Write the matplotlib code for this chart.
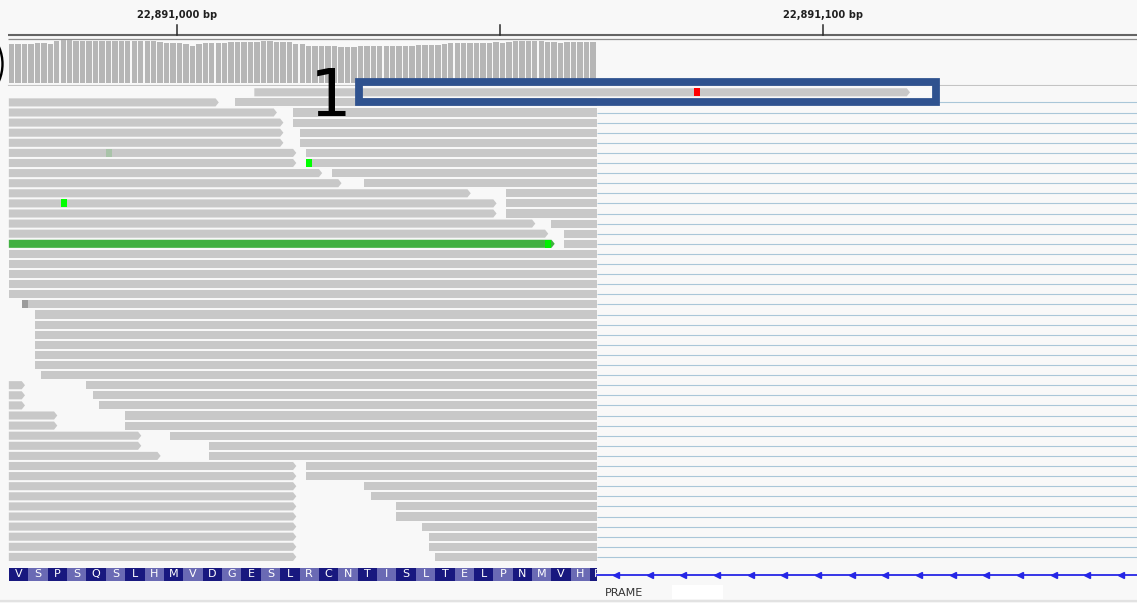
import numpy as np
import matplotlib
matplotlib.use("Agg")
import matplotlib.pyplot as plt
from matplotlib.patches import Polygon, Rectangle, Ellipse
from matplotlib.transforms import Bbox, TransformedBbox

# ---- canvas and genome scale ----
W, H = 1137, 603
BG = "#f8f8f8"
ORIGIN = 22_891_000          # genomic coordinate used as offset 0
BP_PX = 6.46                 # pixels per base
ORIGIN_PX = 176.8            # pixel column of ORIGIN
XMIN = -ORIGIN_PX / BP_PX
XMAX = (W - ORIGIN_PX) / BP_PX

# ---- ruler ----
ruler_ticks = [0, 50, 100]
labeled_ticks = [0, 100]

# ---- loaded alignment window (offsets from ORIGIN) ----
DATA_START = -26
DATA_END = 65

# ---- coverage, one value per base from DATA_START ----
coverage = [39, 39, 39, 39, 40, 40, 39, 42, 43, 43, 42, 42, 42, 42,
            42, 42, 42, 42, 42, 42, 42, 42, 42, 41, 40, 40, 40, 39, 37, 39,
            40, 40, 40, 40, 41, 41, 41, 41, 41, 42, 42, 41, 41, 41, 39, 39,
            37, 37, 37, 37, 37, 36, 36, 36, 37, 37, 37, 37, 37, 37, 37,
            37, 37, 38, 38, 38, 38, 39, 40, 40, 40, 40, 40, 40, 40,
            41, 40, 41, 42, 42, 42, 42, 42, 41, 41, 40, 41, 41, 41, 41, 41]
COV_MAX = 46

# ---- alignments ----
N_ROWS = 47
# single unspliced read in the top row
top_row, top_start, top_end = 0, 12, 113
# forward reads that end inside the window (start clipped at DATA_START)
left_rows = [1, 2, 3, 4, 5, 6, 7, 8, 9, 10, 11, 12, 13, 14, 15,
             29, 30, 31, 32, 33, 34, 35, 36, 37, 38, 39, 40, 41, 42, 43, 44, 45, 46]
left_ends = [6, 15, 16, 16, 16, 18, 18, 22, 25, 45, 49, 49, 55, 57, 58,
             -24, -24, -24, -19, -19, -6, -6, -3, 18, 18, 18, 18, 18, 18, 18, 18, 18, 18]
green_row = 15
# spliced reads running to DATA_END, intron line continues to the right
right_rows = list(range(1, 47))
right_starts = [9, 18, 18, 19, 19, 20, 20, 24, 29, 51, 51, 51, 58, 60, 60,
                -26, -26, -26, -26, -26, -24, -22, -22, -22, -22, -22, -22, -21,
                -14, -13, -12, -8, -8, -1, 5, 5,
                20, 20, 29, 30, 34, 34, 38, 39, 39, 40]
# mismatched bases
mm_rows = [0, 6, 7, 11, 15, 21]
mm_pos = [80, -11, 20, -18, 57, -24]
mm_colors = ["#ff0000", "#a9c3a9", "#00ff00", "#00ff00", "#00f000", "#9c9c9c"]

# ---- gene track ----
gene_name = "PRAME"
amino_acids = list("VSPSQSLHMVDGESLRCNTISLTELPNMVHR")
AA_START = -26
STRAND_ARROW_SPACING = 5.212  # bases between strand arrows on the intron line

READ_GREY = "#c8c8c8"
READ_GREEN = "#41b041"
INTRON_BLUE = "#a9c6d8"
GENE_BLUE = "#2626e6"
AA_DARK, AA_LIGHT = "#18187f", "#6a6ab4"
BOX_BLUE = "#2f528f"

fig = plt.figure(figsize=(W / 100, H / 100), dpi=100, facecolor=BG)


def band(top, bottom, ylim=None):
    ax = fig.add_axes([0, 1 - bottom / H, 1, (bottom - top) / H])
    ax.set_xlim(XMIN, XMAX)
    ax.set_ylim(ylim if ylim is not None else (bottom, top))
    ax.set_axis_off()
    return ax


def px2bp(px):
    return (px - ORIGIN_PX) / BP_PX


# ---- ruler ----
ax_r = band(0, 42)
x_line0 = px2bp(8)
ax_r.plot([x_line0, XMAX], [35, 35], color="#646464", lw=1.5, solid_capstyle="butt")
ax_r.plot([x_line0, XMAX], [39.3, 39.3], color="#8c8c8c", lw=0.9, solid_capstyle="butt")
for t in ruler_ticks:
    ax_r.plot([t, t], [24.5, 34.5], color="#2a2a2a", lw=1.1)
for t in labeled_ticks:
    ax_r.text(t, 15.5, f"{ORIGIN + t:,} bp", ha="center", va="center",
              fontsize=7.1, fontweight="bold", color="#202020")

# ---- coverage ----
COV_BOTTOM = 83.3
ax_c = band(COV_BOTTOM - COV_MAX, COV_BOTTOM, ylim=(0, COV_MAX))
cov_x = np.arange(DATA_START, DATA_START + len(coverage))
ax_c.bar(cov_x, coverage, width=1 - 1.1 / BP_PX, align="edge",
         color="#b6b6b6", linewidth=0)

# separator under the coverage track
ax_s = band(83.5, 86)
ax_s.plot([x_line0, XMAX], [84.8, 84.8], color="#c4c4c4", lw=0.8)

# ---- alignments ----
ROW_TOP = 92.3
ROW_PITCH = 10.1
HALF = 0.40
TIP = 0.5
ax_a = band(ROW_TOP - ROW_PITCH / 2, ROW_TOP - ROW_PITCH / 2 + ROW_PITCH * N_ROWS,
            ylim=(N_ROWS - 0.5, -0.5))


def draw_read(s, e, row, tip, color):
    if tip:
        pts = [(s, row - HALF), (e, row - HALF), (e + TIP, row),
               (e, row + HALF), (s, row + HALF)]
    else:
        pts = [(s, row - HALF), (e, row - HALF), (e, row + HALF), (s, row + HALF)]
    ax_a.add_patch(Polygon(pts, closed=True, facecolor=color, edgecolor="none"))


# intron lines of the spliced reads
ax_a.hlines(right_rows, DATA_END, XMAX, color=INTRON_BLUE, lw=0.8)

draw_read(top_start, top_end, top_row, True, READ_GREY)
for r, e in zip(left_rows, left_ends):
    draw_read(DATA_START, e, r, True, READ_GREEN if r == green_row else READ_GREY)
for r, s in zip(right_rows, right_starts):
    draw_read(s, DATA_END, r, False, READ_GREY)

for r, p, c in zip(mm_rows, mm_pos, mm_colors):
    ax_a.add_patch(Rectangle((p, r - HALF), 1, 2 * HALF, facecolor=c, edgecolor="none"))

# ---- gene track ----
ax_g = band(560, 603)
clip = TransformedBbox(Bbox([[XMIN, 560], [DATA_END, 603]]), ax_g.transData)
for k, aa in enumerate(amino_acids):
    c0 = AA_START + 3 * k
    width = min(3, DATA_END - c0)
    ax_g.add_patch(Rectangle((c0, 567.5), width, 13,
                             facecolor=AA_DARK if k % 2 == 0 else AA_LIGHT,
                             edgecolor="none"))
    # letter centred on the visible part of the codon, then clipped
    t = ax_g.text(c0 + max(width, 1.5) / 2 + (0.45 if width < 3 else 0), 574.2, aa,
                  ha="center", va="center", fontsize=8, color="white")
    t.set_clip_on(True)
    t.set_clip_box(clip)

ax_g.plot([DATA_END, XMAX], [574.5, 574.5], color=GENE_BLUE, lw=1.3)
arrow_x = np.arange(px2bp(616), XMAX, STRAND_ARROW_SPACING)
ax_g.plot(arrow_x, np.full_like(arrow_x, 574.5), ls="none", marker="<",
          ms=4.5, color=GENE_BLUE, mec=GENE_BLUE)
ax_g.text(px2bp(605), 593.5, gene_name, ha="left", va="center",
          fontsize=8, color="#333333")

# ---- annotation layer in pixel space ----
ax_n = fig.add_axes([0, 0, 1, 1])
ax_n.set_xlim(0, W)
ax_n.set_ylim(H, 0)
ax_n.set_axis_off()
ax_n.add_patch(Rectangle((672, 585), 51, 14, facecolor="white", edgecolor="none"))
ax_n.plot([0, W], [601.3, 601.3], color="#e2e2e2", lw=1.6)
ax_n.add_patch(Ellipse((-40.5, 64), 86, 86, fill=False, lw=1.7, edgecolor="black"))
ax_n.add_patch(Rectangle((359, 81.5), 576.5, 20.3, fill=False,
                         edgecolor=BOX_BLUE, lw=5.6, joinstyle="miter"))
ax_n.text(331, 116, "1", ha="center", va="baseline", fontsize=47, color="black")

fig.savefig("out.png", dpi=100, facecolor=BG)
